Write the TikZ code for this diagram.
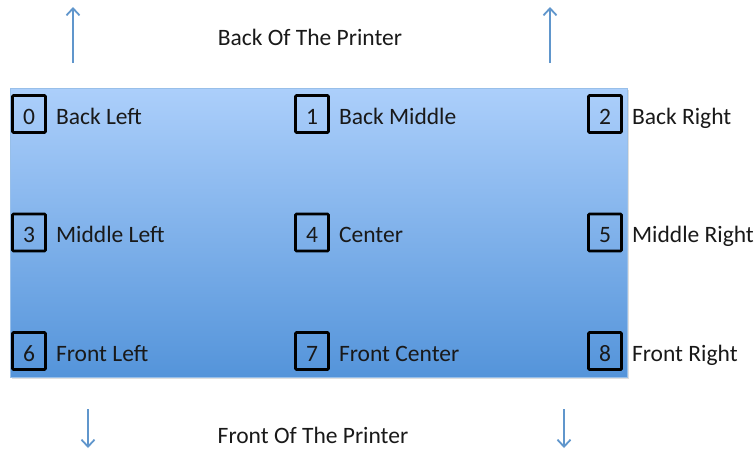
\documentclass[tikz,border=0pt]{standalone}
\usepackage{fontspec}
\setmainfont{Carlito}
\usetikzlibrary{positioning,arrows.meta,shadows}
\definecolor{boardtop}{RGB}{172,207,251}
\definecolor{boardbottom}{RGB}{84,148,218}
\definecolor{arrowblue}{RGB}{96,150,204}
\definecolor{inkgray}{RGB}{25,25,25}

\begin{document}
\begin{tikzpicture}[
  x=1pt, y=-1pt,
  board/.style={top color=boardtop, bottom color=boardbottom, draw=boardbottom!60,
                line width=0.4pt, minimum width=617pt, minimum height=289pt,
                inner sep=0pt, drop shadow={opacity=0.25, shadow xshift=1.5pt,
                shadow yshift=-1.5pt}},
  numbox/.style={draw=black, line width=2.8pt, rounded corners=1pt,
                 minimum width=33pt, minimum height=37pt, inner sep=0pt,
                 text=inkgray, text height=20pt, text depth=0pt,
                 font=\fontsize{23.5}{28}\selectfont},
  spotlabel/.style={inner sep=0pt, text=inkgray, text height=20pt, text depth=0pt,
                    font=\fontsize{23.5}{28}\selectfont},
  sidelabel/.style={inner sep=0pt, text=inkgray, font=\fontsize{23.5}{28}\selectfont},
  dirarrow/.style={arrowblue, line width=2pt,
                   -{Straight Barb[length=7pt, width=13pt, line width=1.8pt]}}
]
  \useasboundingbox (0,0) rectangle (754,451);

  \node[board] (bed) at (318.5,232.5) {};

  % spots on the bed
  \foreach \n/\x/\y/\txt in {0/29/114/Back Left, 1/312/114/Back Middle,
                             2/605/114/Back Right, 3/29/232.5/Middle Left,
                             4/312/232.5/Center, 5/605/232.5/Middle Right,
                             6/29/351/Front Left, 7/312/351/Front Center,
                             8/605/351/Front Right} {
    \node[numbox] (s\n) at (\x,\y) {\n};
    \node[spotlabel, right=9pt of s\n] (t\n) {\txt};
  }

  \node[sidelabel] (back) at (310,37) {Back Of The Printer};
  \node[sidelabel] (front) at (313,435) {Front Of The Printer};

  \coordinate (ua) at (73,63);   \coordinate (ub) at (73,7);
  \coordinate (uc) at (550,63);  \coordinate (ud) at (550,7);
  \coordinate (da) at (88,409);  \coordinate (db) at (88,448);
  \coordinate (dc) at (564,409); \coordinate (dd) at (564,448);

  \draw[dirarrow] (ua) -- (ub);
  \draw[dirarrow] (uc) -- (ud);
  \draw[dirarrow] (da) -- (db);
  \draw[dirarrow] (dc) -- (dd);
\end{tikzpicture}
\end{document}
